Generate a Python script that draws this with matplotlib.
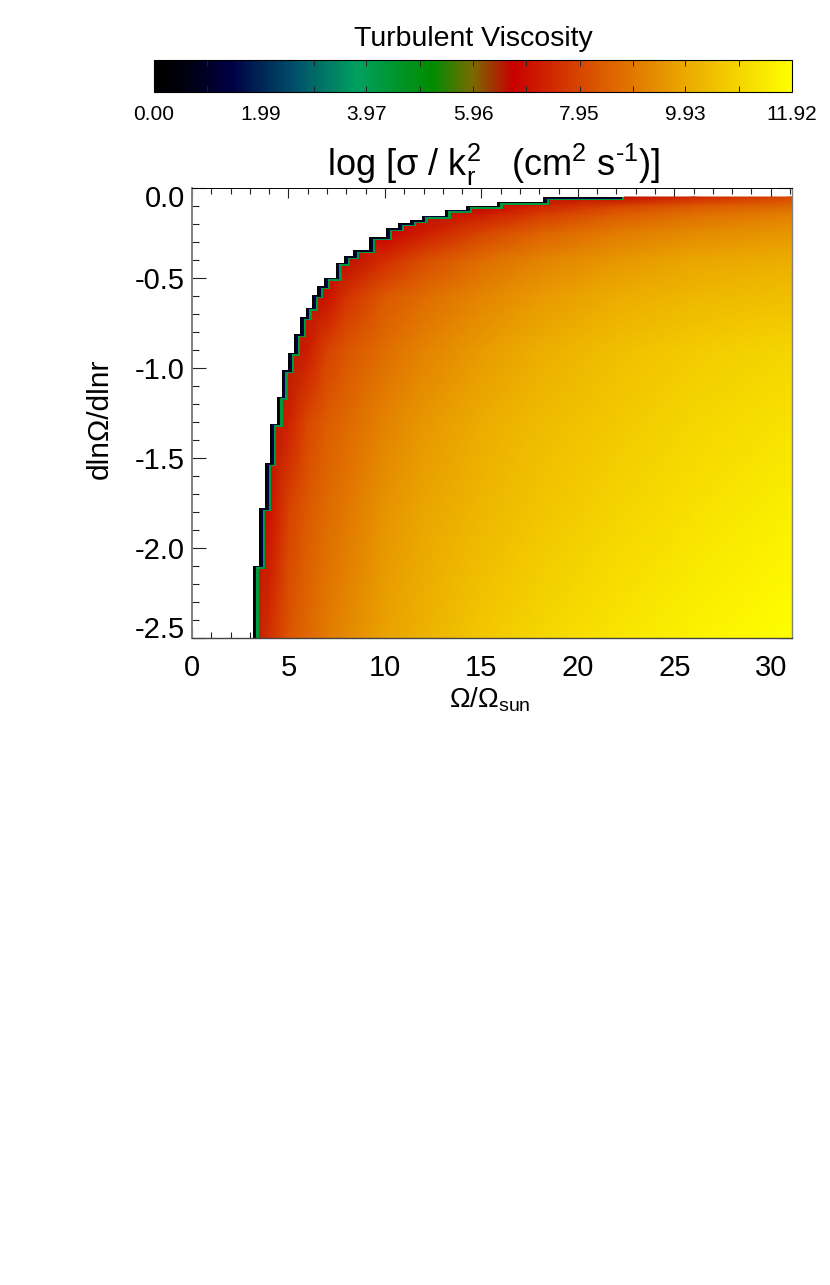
import matplotlib
matplotlib.use('Agg')
import matplotlib.pyplot as plt
import numpy as np
from matplotlib.colors import LinearSegmentedColormap, Normalize
from matplotlib.cm import ScalarMappable
from matplotlib.patches import Polygon, Rectangle
from matplotlib.transforms import Affine2D
from matplotlib.ticker import FixedLocator, FixedFormatter

plt.rcParams['font.family'] = ['Liberation Sans', 'DejaVu Sans']
plt.rcParams['mathtext.fontset'] = 'custom'
plt.rcParams['mathtext.rm'] = 'Liberation Sans'
plt.rcParams['mathtext.default'] = 'rm'

W, H = 830, 1285

# colour table
cmap_pos = [0.0, 0.04, 0.12, 0.22, 0.317, 0.436, 0.50, 0.562, 0.70, 0.835, 1.0]
cmap_col = ['#000000', '#00000a', '#000044', '#00506a', '#00a060', '#008c00',
            '#7a6a00', '#c80000', '#dc5a00', '#ebaa00', '#ffff00']

vmin, vmax = 0.0, 11.92
bar_ticks = [0.00, 1.99, 3.97, 5.96, 7.95, 9.93, 11.92]
bar_labels = ['0.00', '1.99', '3.97', '5.96', '7.95', '9.93', '11.92']
bar_minor = [0.99, 2.98, 4.97, 6.95, 8.94, 10.93]

# field, value per (row, column)
omega = [3, 4, 5, 6, 7, 8, 10, 12, 15, 18, 22, 26, 31.1]
shear = [-0.05, -0.1, -0.15, -0.25, -0.4, -0.6, -0.9, -1.3, -1.8, -2.5]
field = [
    [6.5, 6.5, 6.5, 6.5, 6.5, 6.5, 6.5, 6.5, 6.5, 6.5, 6.6, 7.4, 8.0],
    [6.5, 6.5, 6.5, 6.5, 6.5, 6.5, 6.5, 6.5, 6.7, 7.3, 7.9, 8.3, 8.6],
    [6.5, 6.5, 6.5, 6.5, 6.5, 6.5, 6.5, 6.6, 7.2, 7.8, 8.4, 8.8, 9.1],
    [6.5, 6.5, 6.5, 6.5, 6.5, 6.5, 6.7, 7.2, 7.95, 8.5, 9.0, 9.3, 9.55],
    [6.5, 6.5, 6.5, 6.5, 6.5, 6.6, 7.5, 8.1, 8.7, 9.15, 9.55, 9.85, 10.05],
    [6.5, 6.5, 6.5, 6.5, 7.0, 7.6, 8.3, 8.7, 9.2, 9.6, 10.0, 10.25, 10.45],
    [6.5, 6.5, 6.5, 7.2, 7.9, 8.25, 8.75, 9.15, 9.65, 10.05, 10.45, 10.7, 10.95],
    [6.5, 6.5, 7.3, 8.0, 8.4, 8.65, 9.15, 9.55, 10.0, 10.35, 10.65, 10.95, 11.25],
    [6.5, 7.0, 7.9, 8.35, 8.7, 8.95, 9.5, 9.85, 10.25, 10.55, 10.9, 11.2, 11.55],
    [6.5, 7.55, 8.25, 8.65, 9.0, 9.3, 9.8, 10.15, 10.6, 10.95, 11.3, 11.6, 11.92],
]

# staircase edge of the filled region
edge_x = [3.14, 3.49, 3.78, 4.04, 4.39, 4.65, 4.99, 5.29, 5.6, 5.9, 6.24, 6.5,
          6.84, 7.44, 7.9, 8.34, 9.2, 10.08, 10.68, 11.3, 11.9, 13.1, 14.2,
          15.8, 18.2, 22.1]
edge_y = [-2.10, -1.78, -1.53, -1.31, -1.16, -1.015, -0.916, -0.814, -0.717,
          -0.665, -0.596, -0.546, -0.498, -0.416, -0.38, -0.346, -0.275,
          -0.225, -0.197, -0.18, -0.153, -0.12, -0.098, -0.076, -0.052, -0.02]

# colour value and pixel shift of the layers along the edge
band_value = [0.0, 1.4, 4.3]
band_dx = [0.0, 2.0, 3.6]
band_dy = [0.0, 0.9, 1.6]
fill_dx, fill_dy = 6.0, 3.0

x_major = [0, 5, 10, 15, 20, 25, 30]
x_labels = ['0', '5', '10', '15', '20', '25', '30']
x_minor = [1, 2, 3, 4, 6, 7, 8, 9, 11, 12, 13, 14, 16, 17, 18, 19, 21, 22, 23, 24, 26, 27, 28, 29, 31]
y_major = [0.0, -0.5, -1.0, -1.5, -2.0, -2.5]
y_labels = ['0.0', '-0.5', '-1.0', '-1.5', '-2.0', '-2.5']
y_minor = [-0.1, -0.2, -0.3, -0.4, -0.6, -0.7, -0.8, -0.9, -1.1, -1.2, -1.3, -1.4,
           -1.6, -1.7, -1.8, -1.9, -2.1, -2.2, -2.3, -2.4]

cmap = LinearSegmentedColormap.from_list('visc', list(zip(cmap_pos, cmap_col)), N=512)
norm = Normalize(vmin, vmax)


def px_axes(fig, left, top, right, bottom):
    return fig.add_axes([left / W, 1 - bottom / H, (right - left) / W, (bottom - top) / H])


fig = plt.figure(figsize=(W / 100, H / 100), dpi=100, facecolor='white')

# colour bar
cax = px_axes(fig, 154, 60, 792, 92)
cb = fig.colorbar(ScalarMappable(norm=norm, cmap=cmap), cax=cax, orientation='horizontal')
cb.outline.set_linewidth(0.8)
cax.xaxis.set_major_locator(FixedLocator(bar_ticks))
cax.xaxis.set_major_formatter(FixedFormatter(bar_labels))
cax.xaxis.set_minor_locator(FixedLocator(bar_minor))
cax.tick_params(axis='x', which='both', direction='in', top=True, bottom=True,
                length=4, width=0.7, color='#222222', labelsize=15, pad=9)
fig.text(473 / W, 1 - 39 / H, 'Turbulent Viscosity', ha='center', va='center', fontsize=20.5)

# main panel
ax = px_axes(fig, 192, 188, 792, 637.5)
ax.set_xlim(0, 31.1)
ax.set_ylim(-2.5, 0)

# outline of the filled region, staircase from the bottom up to the top edge
outline = [(32, 0.1), (32, -2.7), (edge_x[0], -2.7)]
for i in range(len(edge_x)):
    outline.append((edge_x[i], edge_y[i]))
    if i + 1 < len(edge_x):
        outline.append((edge_x[i + 1], edge_y[i]))
outline.append((edge_x[-1], 0.1))
outline = np.array(outline)

region = Rectangle((0, -2.5), 31.1, 2.5 + shear[0], transform=ax.transData)
for val, dx, dy in zip(band_value, band_dx, band_dy):
    poly = Polygon(outline, closed=True, facecolor=cmap(norm(val)), edgecolor='none',
                   transform=ax.transData + Affine2D().translate(dx, -dy), zorder=1)
    ax.add_patch(poly)
    poly.set_clip_path(region)

mesh = ax.pcolormesh(omega, shear, np.array(field), cmap=cmap, norm=norm,
                     shading='gouraud', zorder=2)
clip = Polygon(outline, closed=True, transform=ax.transData + Affine2D().translate(fill_dx, -fill_dy))
mesh.set_clip_path(clip)

ax.set_xticks(x_major)
ax.set_xticklabels(x_labels)
ax.set_xticks(x_minor, minor=True)
ax.set_yticks(y_major)
ax.set_yticklabels(y_labels)
ax.set_yticks(y_minor, minor=True)
ax.tick_params(axis='x', which='major', direction='in', top=True, bottom=True, length=7.5,
               width=0.8, labelsize=21, pad=12, color='#222222')
ax.tick_params(axis='x', which='minor', direction='in', top=True, bottom=True, length=4,
               width=0.8, color='#222222')
ax.tick_params(axis='y', which='major', direction='in', left=True, right=True, length=10,
               width=0.8, labelsize=21, pad=5, color='#222222')
ax.tick_params(axis='y', which='minor', direction='in', left=True, right=True, length=5,
               width=0.8, color='#222222')
top_label = ax.get_yticklabels()[0]
top_label.set_va('top')
top_label.set_transform(top_label.get_transform() + Affine2D().translate(0, 3))
ax.get_yticklabels()[-1].set_va('baseline')
ax.spines['left'].set_color('#808080')
ax.spines['left'].set_linewidth(1.4)
ax.spines['right'].set_color('#808080')
ax.spines['right'].set_linewidth(1.0)
ax.spines['top'].set_linewidth(0.7)
ax.spines['bottom'].set_color('#444444')
ax.spines['bottom'].set_linewidth(1.0)

fig.text(494 / W, 1 - 165 / H, r'log [σ / k$_r^2$   (cm$^2$ s$^{\text{-}1}$)]', ha='center', va='center', fontsize=26)
fig.text(100 / W, 1 - 419 / H, 'dlnΩ/dlnr', rotation=90, ha='center', va='center', fontsize=21.5)
fig.text(490 / W, 1 - 708 / H, 'Ω/Ω$_{sun}$', ha='center', va='baseline', fontsize=20)

fig.savefig('out.png', dpi=100)
